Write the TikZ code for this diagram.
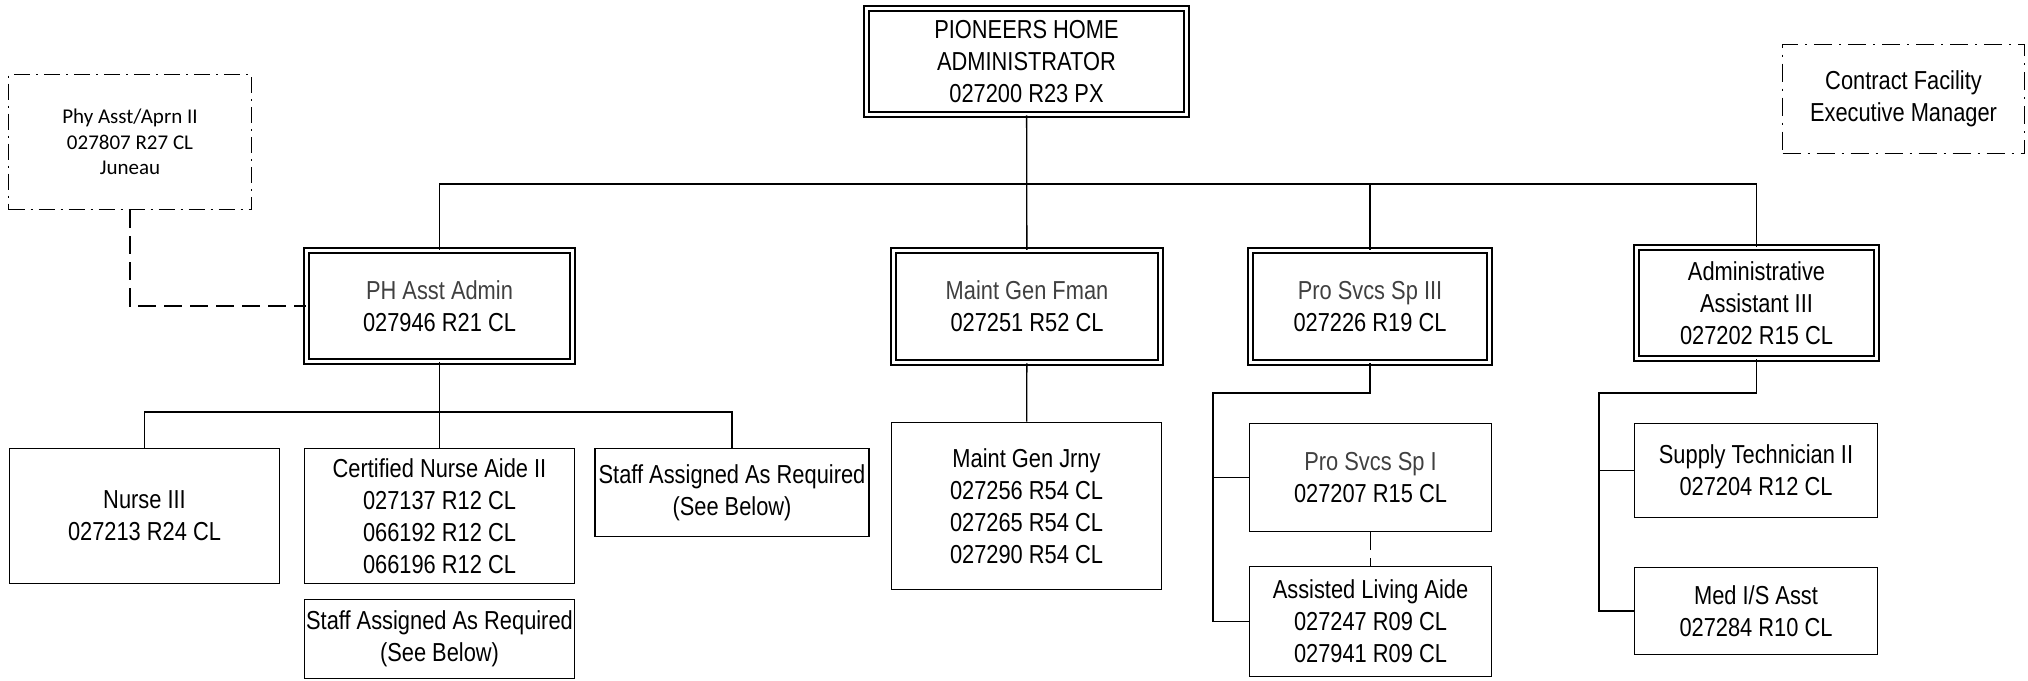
\documentclass[tikz,border=0pt]{standalone}
\usepackage{fontspec}
\setmainfont{Liberation Sans}[FakeStretch=0.84]
\newfontfamily\calibrifont{Carlito}
\usepackage{tikz}
\usetikzlibrary{positioning}
\definecolor{titlegray}{HTML}{404040}
\tikzset{postbox/.style={draw,line width=0.95pt,inner sep=0.5pt,align=center,
		font=\fontsize{13}{16}\selectfont},
	headbox/.style={postbox,double,line width=0.75pt,double distance=1.6pt},
	outbox/.style={postbox,line width=0.9pt,dash pattern=on 8pt off 3pt on 1pt off 3pt},
	link/.style={line width=0.65pt},
	dashlink/.style={link,dash pattern=on 9pt off 4pt}}

\begin{document}
\begin{tikzpicture}[x=0.5pt,y=-0.5pt]
			\useasboundingbox (0,0) rectangle (2028,680);
			% top level
			\node[headbox,minimum width=160pt,minimum height=53pt] (top) at (1026.5,61.5) {PIONEERS HOME\\ADMINISTRATOR\\027200 R23 PX};
			\node[outbox,minimum width=121.5pt,minimum height=67.5pt,font=\calibrifont\fontsize{10.5}{12.75}\selectfont] (phy) at (130,142) {Phy Asst/Aprn II\\027807 R27 CL\\Juneau};
			\node[outbox,minimum width=121pt,minimum height=54.5pt,dash pattern=on 9pt off 3.5pt on 1pt off 3.5pt] (cf) at (1903.5,99) {Contract Facility\\Executive Manager};
			% second level
			\node[headbox,minimum width=133pt,minimum height=55.5pt] (ph) at (439.5,306) {{\color{titlegray}PH Asst Admin}\\027946 R21 CL};
			\node[headbox,minimum width=133.5pt,minimum height=56pt] (mg) at (1027,306.5) {{\color{titlegray}Maint Gen Fman}\\027251 R52 CL};
			\node[headbox,minimum width=119.5pt,minimum height=56pt] (ps3) at (1370,306.5) {{\color{titlegray}Pro Svcs Sp III}\\027226 R19 CL};
			\node[headbox,minimum width=120pt,minimum height=55.5pt] (aa) at (1756.5,303) {Administrative\\Assistant III\\027202 R15 CL};
			% third level
			\node[postbox,minimum width=135pt,minimum height=67.5pt] (nur) at (144.5,516) {Nurse III\\027213 R24 CL};
			\node[postbox,minimum width=135pt,minimum height=67.5pt] (cna) at (439.5,516) {Certified Nurse Aide II\\027137 R12 CL\\066192 R12 CL\\066196 R12 CL};
			\node[postbox,minimum width=135pt,minimum height=39.5pt] (sb) at (439.5,639) {Staff Assigned As Required\\(See Below)};
			\node[postbox,minimum width=137pt,minimum height=44pt] (sa) at (732,492.5) {Staff Assigned As Required\\(See Below)};
			\node[postbox,minimum width=135pt,minimum height=83.5pt] (mj) at (1026.5,506) {Maint Gen Jrny\\027256 R54 CL\\027265 R54 CL\\027290 R54 CL};
			\node[postbox,minimum width=121pt,minimum height=54pt] (ps1) at (1370.5,477.5) {{\color{titlegray}Pro Svcs Sp I}\\027207 R15 CL};
			\node[postbox,minimum width=121pt,minimum height=55pt] (ala) at (1370.5,621.5) {Assisted Living Aide\\027247 R09 CL\\027941 R09 CL};
			\node[postbox,minimum width=121.5pt,minimum height=47pt] (st) at (1756,470.5) {Supply Technician II\\027204 R12 CL};
			\node[postbox,minimum width=121.5pt,minimum height=43.5pt] (med) at (1756,611) {Med I/S Asst\\027284 R10 CL};
			% bus points
			\coordinate (bus) at (1027,184);
			\coordinate (phbus) at (440,412);
			\coordinate (psbus) at (1213,393);
			\coordinate (aabus) at (1599,393);
			% connectors
			\draw[link] (top) -- (mg);
			\draw[link] (ph.north) |- (bus) -| (aa.north);
			\draw[link] (ps3.north) -- (ps3.north |- bus);
			\draw[link] (ph) -- (cna);
			\draw[link] (nur.north) |- (phbus) -| (sa.north);
			\draw[link] (mg) -- (mj);
			\draw[link] (ps3.south) |- (psbus) |- (ala.west);
			\draw[link] (psbus |- ps1.west) -- (ps1.west);
			\draw[dashlink] (ps1) -- (ala);
			\draw[link] (aa.south) |- (aabus) |- (med.west);
			\draw[link] (aabus |- st.west) -- (st.west);
			\draw[dashlink] (phy.south) |- (ph.west);
		\end{tikzpicture}
\end{document}
